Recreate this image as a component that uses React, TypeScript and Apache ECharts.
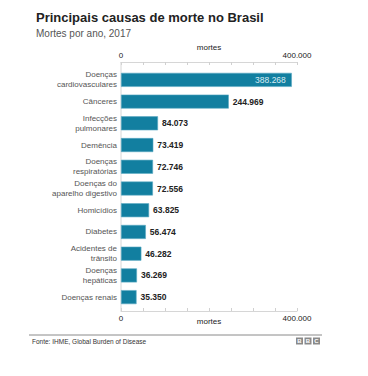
import React, { useEffect, useRef } from "react";
import * as echarts from "echarts";

const categories = [
  "Doenças\ncardiovasculares",
  "Cânceres",
  "Infecções\npulmonares",
  "Demência",
  "Doenças\nrespiratórias",
  "Doenças do\naparelho digestivo",
  "Homicídios",
  "Diabetes",
  "Acidentes de\ntrânsito",
  "Doenças\nhepáticas",
  "Doenças renais",
];
const deaths = [388268, 244969, 84073, 73419, 72746, 72556, 63825, 56474, 46282, 36269, 35350];
const axisMin = 0;
const axisMax = 400000;
const axisStep = 50000;
const tickLabels: Record<number, string> = { 0: "0", 400000: "400.000" };
const axisName = "mortes";
const titleText = "Principais causas de morte no Brasil";
const subtitleText = "Mortes por ano, 2017";
const sourceText = "Fonte: IHME, Global Burden of Disease";

const FONT = "'Liberation Sans', Arial, Helvetica, sans-serif";
const BAR = "#127fa0";

const fmt = (v: number) => String(v).replace(/\B(?=(\d{3})+(?!\d))/g, ".");

export default function App() {
  const ref = useRef<HTMLDivElement>(null);
  useEffect(() => {
    if (!ref.current) return;
    const chart = echarts.init(ref.current, undefined, { renderer: "svg" });
    const xAxisBase = (position: "top" | "bottom", offset: number, labelMargin: number, nameGap: number) => ({
      type: "value",
      position,
      offset,
      min: axisMin,
      max: axisMax,
      interval: axisStep,
      name: axisName,
      nameLocation: "middle",
      nameGap,
      nameMoveOverlap: false,
      nameTextStyle: { fontFamily: FONT, fontSize: 8, color: "#222" },
      axisLine: { show: true, lineStyle: { color: "#d6d6d6", width: 1 } },
      axisTick: { show: true, inside: true, length: 3, lineStyle: { color: "#d0d0d0" } },
      splitLine: { show: false },
      axisLabel: {
        margin: labelMargin,
        fontFamily: FONT,
        fontSize: 8,
        color: "#222",
        formatter: (v: number) => tickLabels[v] ?? "",
      },
    });
    chart.setOption({
      animation: false,
      grid: { left: 121, width: 176, top: 69, height: 239 },
      xAxis: [xAxisBase("top", 7, 3, 11), xAxisBase("bottom", 3, 3, 6)],
      yAxis: {
        type: "category",
        inverse: true,
        data: categories,
        axisLine: { show: false },
        axisTick: { show: false },
        axisLabel: {
          margin: 4,
          fontFamily: FONT,
          fontSize: 8,
          lineHeight: 10,
          color: "#555",
          align: "right",
        },
      },
      series: [
        {
          type: "bar",
          xAxisIndex: 0,
          barWidth: 14,
          data: deaths.map((v, i) =>
            i === 0
              ? {
                  value: v,
                  label: {
                    position: "insideRight",
                    distance: 6,
                    color: "#d8ecf3",
                    fontWeight: "normal",
                  },
                }
              : v
          ),
          itemStyle: { color: BAR, borderColor: "#5aa9c2", borderWidth: 0.6 },
          label: {
            show: true,
            position: "right",
            distance: 4,
            fontFamily: FONT,
            fontSize: 8.5,
            fontWeight: "bold",
            color: "#222",
            formatter: (p: any) => fmt(p.value),
          },
        },
      ],
      graphic: [
        {
          type: "line",
          shape: { x1: 121, y1: 62, x2: 121, y2: 311 },
          style: { stroke: "#d6d6d6", lineWidth: 1 },
          z: 1,
        },
        {
          type: "text",
          left: 36,
          top: 11,
          style: { text: titleText, font: `bold 13px ${FONT}`, fill: "#222" },
        },
        {
          type: "text",
          left: 36,
          top: 28,
          style: { text: subtitleText, font: `10px ${FONT}`, fill: "#555" },
        },
        {
          type: "line",
          shape: { x1: 29, y1: 335, x2: 322, y2: 335 },
          style: { stroke: "#8a8a8a", lineWidth: 1 },
        },
        {
          type: "text",
          left: 32,
          top: 337.5,
          style: { text: sourceText, font: `6.5px ${FONT}`, fill: "#333" },
        },
        ...["B", "B", "C"].flatMap((ch, i) => [
          {
            type: "rect",
            shape: { x: 296 + i * 8.5, y: 337.5, width: 7, height: 7 },
            style: { fill: "#8a8a8a" },
          },
          {
            type: "text",
            x: 296 + i * 8.5 + 3.5,
            y: 341,
            style: {
              text: ch,
              font: `bold 6px ${FONT}`,
              fill: "#fff",
              align: "center",
              verticalAlign: "middle",
            },
          },
        ]),
      ],
    });
    return () => chart.dispose();
  }, []);
  return (
    <div
      ref={ref}
      style={{ position: "fixed", left: 0, top: 0, width: 368, height: 376, background: "#fff" }}
    />
  );
}
